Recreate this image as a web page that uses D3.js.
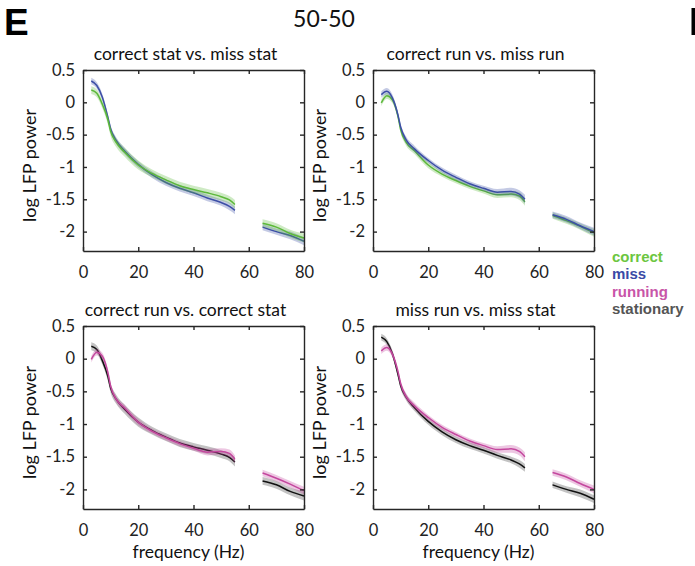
<!DOCTYPE html>
<html>
<head>
<meta charset="utf-8">
<script src="https://cdn.jsdelivr.net/npm/d3@7"></script>
<style>
  body { margin: 0; background: #fff; }
  svg { display: block; font-family: Lato, "Open Sans", sans-serif; }
</style>
</head>
<body>
<svg width="695" height="566"></svg>
<script>
var svg = d3.select('svg')

// frequencies (Hz); 55-65 is left out around line noise
var freqs = [3, 5, 7, 9, 10, 12, 15, 20, 25, 30, 35, 40, 45, 50, 53, 55, 65, 70, 75, 80]

var correctStat = [0.19, 0.14, -0.03, -0.27, -0.45, -0.62, -0.77, -0.97, -1.10, -1.20, -1.29, -1.35, -1.40, -1.46, -1.51, -1.58, -1.87, -1.93, -2.03, -2.10]
var missStat = [0.33, 0.26, 0.08, -0.23, -0.41, -0.59, -0.75, -0.96, -1.12, -1.24, -1.33, -1.40, -1.48, -1.55, -1.61, -1.67, -1.93, -2.00, -2.06, -2.15]
var correctRun = [-0.01, 0.10, 0.04, -0.21, -0.42, -0.62, -0.75, -0.97, -1.11, -1.21, -1.30, -1.37, -1.43, -1.42, -1.45, -1.54, -1.75, -1.83, -1.92, -2.02]
var missRun = [0.12, 0.17, 0.07, -0.19, -0.38, -0.58, -0.72, -0.90, -1.05, -1.16, -1.26, -1.33, -1.39, -1.38, -1.42, -1.50, -1.74, -1.81, -1.91, -2.00]

// shaded error half-widths
var correctStatErr = [0.06, 0.06, 0.06, 0.07, 0.07, 0.07, 0.07, 0.07, 0.06, 0.06, 0.06, 0.06, 0.06, 0.06, 0.06, 0.07, 0.06, 0.06, 0.06, 0.07]
var missStatErr = [0.05, 0.05, 0.05, 0.05, 0.05, 0.05, 0.05, 0.05, 0.05, 0.05, 0.05, 0.05, 0.05, 0.05, 0.06, 0.06, 0.05, 0.05, 0.06, 0.06]
var correctRunErr = [0.05, 0.05, 0.05, 0.05, 0.05, 0.05, 0.05, 0.05, 0.04, 0.04, 0.04, 0.04, 0.05, 0.05, 0.06, 0.06, 0.05, 0.05, 0.05, 0.06]
var missRunErr = [0.05, 0.05, 0.05, 0.05, 0.05, 0.05, 0.05, 0.04, 0.04, 0.04, 0.04, 0.04, 0.05, 0.06, 0.06, 0.07, 0.05, 0.05, 0.05, 0.06]

var xTicks = [0, 20, 40, 60, 80]
var yTicks = [0.5, 0, -0.5, -1, -1.5, -2]

var green = '#5cb83a', blue = '#3c4ea6', pink = '#c4479e', black = '#111'

var panels = [
  { title: 'correct stat vs. miss stat', x: 83, y: 70, h: 181, xlab: false,
    series: [[missStat, missStatErr, blue], [correctStat, correctStatErr, green]] },
  { title: 'correct run vs. miss run', x: 373, y: 70, h: 181, xlab: false,
    series: [[correctRun, correctRunErr, green], [missRun, missRunErr, blue]] },
  { title: 'correct run vs. correct stat', x: 83, y: 326, h: 183, xlab: true,
    series: [[correctStat, correctStatErr, black], [correctRun, correctRunErr, pink]] },
  { title: 'miss run vs. miss stat', x: 373, y: 326, h: 183, xlab: true,
    series: [[missStat, missStatErr, black], [missRun, missRunErr, pink]] }
]
var w = 221

panels.forEach(function (p) {
  var g = svg.append('g').attr('transform', 'translate(' + p.x + ',' + p.y + ')')
  var x = d3.scaleLinear().domain([0, 80]).range([0, w])
  var y = d3.scaleLinear().domain([-2.3, 0.5]).range([p.h, 0])

  var line = d3.line()
    .x(function (d) { return x(d.f) })
    .y(function (d) { return y(d.v) })
    .curve(d3.curveMonotoneX)
  var area = d3.area()
    .x(function (d) { return x(d.f) })
    .y0(function (d) { return y(d.v - d.e) })
    .y1(function (d) { return y(d.v + d.e) })
    .curve(d3.curveMonotoneX)

  p.series.forEach(function (s) {
    var pts = freqs.map(function (f, i) { return { f: f, v: s[0][i], e: s[1][i] } })
    var segs = [pts.filter(function (d) { return d.f < 60 }), pts.filter(function (d) { return d.f > 60 })]
    segs.forEach(function (seg) {
      g.append('path').attr('d', area(seg))
        .style('fill', s[2]).style('fill-opacity', s[2] === black ? 0.25 : 0.3)
      g.append('path').attr('d', line(seg))
        .style('fill', 'none').style('stroke', s[2]).style('stroke-width', 1.5)
    })
  })

  var fmt = function (d) { return String(d) }
  var ax = [
    g.append('g').attr('transform', 'translate(0,' + p.h + ')')
      .call(d3.axisBottom(x).tickValues(xTicks).tickSizeInner(-4).tickSizeOuter(0).tickPadding(15).tickFormat(fmt)),
    g.append('g')
      .call(d3.axisTop(x).tickValues(xTicks).tickSizeInner(-4).tickSizeOuter(0).tickFormat('')),
    g.append('g')
      .call(d3.axisLeft(y).tickValues(yTicks).tickSizeInner(-4).tickSizeOuter(0).tickPadding(8).tickFormat(fmt)),
    g.append('g').attr('transform', 'translate(' + w + ',0)')
      .call(d3.axisRight(y).tickValues(yTicks).tickSizeInner(-4).tickSizeOuter(0).tickFormat(''))
  ]
  ax.forEach(function (a) {
    a.selectAll('.domain, line').style('stroke', '#262626').style('stroke-width', 1.4)
    a.selectAll('text').style('font-size', '16.5px').style('fill', '#222').style('font-family', 'Lato')
  })

  g.append('text').attr('x', w / 2 - 8).attr('y', -10)
    .attr('text-anchor', 'middle').style('font-size', '17.5px').style('fill', '#111')
    .text(p.title)
  g.append('text')
    .attr('transform', 'translate(-47,' + (p.h / 2 + 5) + ') rotate(-90)')
    .attr('text-anchor', 'middle').style('font-size', '18px').style('fill', '#111')
    .text('log LFP power')
  if (p.xlab) {
    g.append('text').attr('x', w / 2 - 5).attr('y', p.h + 49)
      .attr('text-anchor', 'middle').style('font-size', '17.5px').style('fill', '#111')
      .text('frequency (Hz)')
  }
})

svg.append('text').attr('x', 4).attr('y', 35)
  .style('font-family', 'Liberation Sans').style('font-weight', 'bold').style('font-size', '37px')
  .text('E')
svg.append('text').attr('x', 324).attr('y', 27).attr('text-anchor', 'middle')
  .style('font-size', '23px').style('fill', '#111').text('50-50')
svg.append('rect').attr('x', 691.5).attr('y', 8).attr('width', 3.5).attr('height', 27).style('fill', '#000')

var legend = [['correct', '#6cc640'], ['miss', '#3a4aa6'], ['running', '#c855a8'], ['stationary', '#555']]
svg.selectAll('.leg').data(legend).enter().append('text')
  .attr('x', 612).attr('y', function (d, i) { return 262 + i * 17.3 })
  .style('font-family', 'Liberation Sans')
  .style('font-size', '15px').style('font-weight', 'bold')
  .style('fill', function (d) { return d[1] })
  .text(function (d) { return d[0] })
</script>
</body>
</html>
